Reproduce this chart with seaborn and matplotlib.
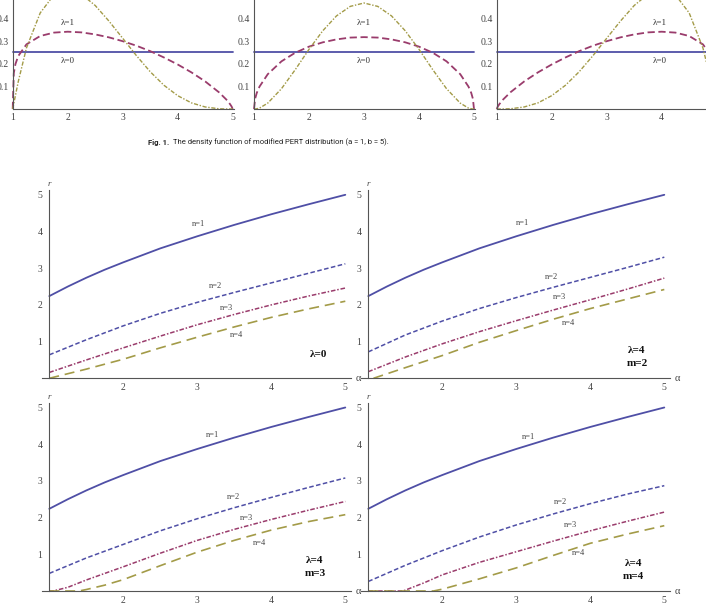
import matplotlib
matplotlib.use("Agg")
import matplotlib.pyplot as plt
import seaborn as sns
from matplotlib.ticker import MultipleLocator

# ---- Fig. 1 data: modified PERT density, a=1, b=5 ----
x_top = [1, 1.02, 1.05, 1.1, 1.25, 1.5, 1.75, 2, 2.25, 2.5, 2.75, 3, 3.25,
         3.5, 3.75, 4, 4.25, 4.5, 4.75, 4.9, 4.95, 4.98, 5]
x_flat = [1, 5]
lam0_density = [0.25, 0.25]

m2_lam1 = [0, 0.159, 0.199, 0.234, 0.286, 0.323, 0.338, 0.342, 0.339, 0.330, 0.317, 0.300,
           0.280, 0.256, 0.228, 0.197, 0.162, 0.122, 0.074, 0.038, 0.022, 0.011, 0]
m2_lam4 = [0, 0.025, 0.060, 0.120, 0.270, 0.425, 0.505, 0.527, 0.508, 0.458, 0.389, 0.313,
           0.236, 0.165, 0.105, 0.059, 0.027, 0.009, 0.001, 0, 0, 0, 0]
m3_lam1 = [0, 0.045, 0.071, 0.099, 0.154, 0.211, 0.249, 0.276, 0.295, 0.308, 0.316, 0.318,
           0.316, 0.308, 0.295, 0.276, 0.249, 0.211, 0.154, 0.099, 0.071, 0.045, 0]
m3_lam4 = [0, 0, 0.001, 0.004, 0.026, 0.090, 0.174, 0.264, 0.346, 0.412, 0.454, 0.469,
           0.454, 0.412, 0.346, 0.264, 0.174, 0.090, 0.026, 0.004, 0.001, 0, 0]
m4_lam1 = [0, 0.011, 0.022, 0.038, 0.074, 0.122, 0.162, 0.197, 0.228, 0.256, 0.280, 0.300,
           0.317, 0.330, 0.339, 0.342, 0.338, 0.323, 0.286, 0.234, 0.199, 0.159, 0]
m4_lam4 = [0, 0, 0, 0, 0.001, 0.009, 0.027, 0.059, 0.105, 0.165, 0.236, 0.313,
           0.389, 0.458, 0.508, 0.527, 0.505, 0.425, 0.270, 0.120, 0.060, 0.025, 0]

# ---- Fig. 2 data: r against alpha ----
alpha_n1 = [1, 1.25, 1.5, 1.75, 2, 2.5, 3, 3.5, 4, 4.5, 5]
r_n1 = [2.24, 2.50, 2.74, 2.96, 3.16, 3.54, 3.87, 4.18, 4.47, 4.74, 5.0]
alpha = [1, 1.5, 2, 2.5, 3, 3.5, 4, 4.5, 5]

# lambda = 0
l0_n2 = [0.64, 1.05, 1.43, 1.77, 2.07, 2.34, 2.60, 2.86, 3.12]
l0_n3 = [0.16, 0.50, 0.83, 1.15, 1.46, 1.74, 2.00, 2.24, 2.46]
l0_n4 = [0.0, 0.25, 0.52, 0.83, 1.12, 1.40, 1.66, 1.89, 2.10]
# lambda = 4, m = 2
m2_n2 = [0.72, 1.18, 1.56, 1.90, 2.20, 2.48, 2.75, 3.02, 3.30]
m2_n3 = [0.18, 0.58, 0.94, 1.27, 1.57, 1.86, 2.14, 2.43, 2.73]
m2_n4_alpha = [1.07, 1.5, 2, 2.5, 3, 3.5, 4, 4.5, 5]
m2_n4 = [0.0, 0.29, 0.62, 0.98, 1.30, 1.61, 1.90, 2.16, 2.42]
# lambda = 4, m = 3
m3_n2 = [0.48, 0.90, 1.27, 1.64, 1.97, 2.27, 2.55, 2.82, 3.08]
m3_n3_alpha = [1, 1.05, 1.25, 1.5, 2, 2.5, 3, 3.5, 4, 4.5, 5]
m3_n3 = [0, 0, 0.10, 0.30, 0.66, 1.03, 1.38, 1.68, 1.95, 2.20, 2.44]
m3_n4_alpha = [1, 1.4, 1.5, 1.75, 2, 2.5, 3, 3.5, 4, 4.5, 5]
m3_n4 = [0, 0, 0.04, 0.16, 0.31, 0.69, 1.06, 1.38, 1.66, 1.89, 2.08]
# lambda = 4, m = 4
m4_n2 = [0.26, 0.70, 1.10, 1.47, 1.80, 2.10, 2.38, 2.64, 2.87]
m4_n3_alpha = [1, 1.47, 1.75, 2, 2.5, 3, 3.5, 4, 4.5, 5]
m4_n3 = [0, 0, 0.22, 0.44, 0.78, 1.07, 1.36, 1.64, 1.90, 2.15]
m4_n4_alpha = [1, 1.88, 2, 2.5, 3, 3.5, 4, 4.5, 5]
m4_n4 = [0, 0, 0.05, 0.33, 0.63, 0.97, 1.30, 1.55, 1.78]

sns.set_theme(style="white")
plt.rcParams["font.family"] = ["Liberation Serif", "DejaVu Serif"]

BLUE = "#4f4fa6"
MAROON = "#9a3c6c"
OLIVE = "#a39b48"
AXC = "#555555"
W, H = 706, 607

fig = plt.figure(figsize=(W / 100, H / 100), dpi=100)


def rect(ox, oy, sx, sy, xlim, ylim):
    left = ox + (xlim[0] - 1) * sx
    right = ox + (xlim[1] - 1) * sx
    top = oy - ylim[1] * sy
    bottom = oy - ylim[0] * sy
    return [left / W, 1 - bottom / H, (right - left) / W, (bottom - top) / H]


def axes_style(ax, xlim, ylim, xt, yt, xminor, yminor, xpad, ypad, lsize):
    ax.set_xlim(*xlim)
    ax.set_ylim(*ylim)
    sns.despine(ax=ax)
    ax.spines["left"].set_position(("data", 1))
    for s in ["left", "bottom"]:
        ax.spines[s].set_color(AXC)
        ax.spines[s].set_linewidth(0.8)
    ax.set_xticks(xt, [f"{v:g}" for v in xt])
    ax.set_yticks(yt, [f"{v:g}" for v in yt])
    ax.xaxis.set_minor_locator(MultipleLocator(xminor))
    ax.yaxis.set_minor_locator(MultipleLocator(yminor))
    ax.tick_params(which="both", direction="in", color=AXC, width=0.6,
                   labelsize=lsize, labelcolor="#444444")
    ax.tick_params(which="major", length=3)
    ax.tick_params(which="minor", length=1.6)
    ax.tick_params(axis="x", pad=xpad)
    ax.tick_params(axis="y", pad=ypad)
    ax.set_xlabel("")
    ax.set_ylabel("")
    ax.patch.set_alpha(0)


def line(ax, x, y, color, ls="-", lw=1.1):
    sns.lineplot(x=x, y=y, ax=ax, color=color, linestyle=ls, lw=lw,
                 estimator=None, sort=False, clip_on=False)


# ---- top row: density panels ----
top_sets = [(12.7, m2_lam1, m2_lam4, 2.0), (254, m3_lam1, m3_lam4, 3.0),
            (496.7, m4_lam1, m4_lam4, 3.97)]
for ox, d1, d4, lx in top_sets:
    xl, yl = (1, 5.02), (0, 0.49)
    ax = fig.add_axes(rect(ox, 109, 55, 226, xl, yl))
    line(ax, x_flat, lam0_density, BLUE, "-", 1.3)
    line(ax, x_top, d1, MAROON, (0, (4, 2)), 1.3)
    line(ax, x_top, d4, OLIVE, (0, (3, 1.2, 1, 1.2)), 1.0)
    axes_style(ax, xl, yl, [1, 2, 3, 4, 5], [0.1, 0.2, 0.3, 0.4], 0.2, 0.02, 3, 3, 7)
    ax.text(lx, 0.38, "λ=1", fontsize=6.5, ha="center", va="center", color="#333333")
    ax.text(lx, 0.212, "λ=0", fontsize=6.5, ha="center", va="center", color="#333333")

# caption, sized to fill the same width as in the page
cap_font = ["Roboto", "Liberation Sans", "DejaVu Sans"]
renderer = fig.canvas.get_renderer()
t_fig = fig.text(148 / W, 1 - 142 / H, "Fig. 1.", fontsize=6, weight="bold",
                 family=cap_font, va="center", color="#222222")
t_cap = fig.text(0, 1 - 142 / H,
                 "The density function of modified PERT distribution (a = 1, b = 5).",
                 fontsize=6, family=cap_font, va="center", color="#222222")
w_cap = t_cap.get_window_extent(renderer).width
scale = 217 / w_cap
t_cap.set_fontsize(6 * scale)
t_fig.set_fontsize(6 * scale)
x_end = t_fig.get_window_extent(renderer).x1
t_cap.set_x((x_end + 4) / W)

# ---- bottom 2x2: r vs alpha ----
panels = [
    (49.3, 378.3, l0_n2, l0_n3, alpha, l0_n4, alpha,
     ["λ=0"], [(3.01, 4.2), (3.24, 2.51), (3.40, 1.91), (3.53, 1.18)], (4.64, 0.64)),
    (368.3, 378.3, m2_n2, m2_n3, alpha, m2_n4, m2_n4_alpha,
     ["λ=4", "m=2"], [(3.09, 4.22), (3.48, 2.77), (3.58, 2.22), (3.70, 1.52)], (4.63, 0.77)),
    (49.3, 591, m3_n2, m3_n3, m3_n3_alpha, m3_n4, m3_n4_alpha,
     ["λ=4", "m=3"], [(3.21, 4.25), (3.49, 2.57), (3.66, 2.0), (3.84, 1.30)], (4.59, 0.84)),
    (368.3, 591, m4_n2, m4_n3, m4_n3_alpha, m4_n4, m4_n4_alpha,
     ["λ=4", "m=4"], [(3.16, 4.2), (3.60, 2.42), (3.73, 1.8), (3.84, 1.03)], (4.58, 0.75)),
]
for ox, oy, n2, n3, a3, n4, a4, tag, lab_pos, tag_pos in panels:
    xl, yl = (0.9, 5.08), (0, 5.12)
    ax = fig.add_axes(rect(ox, oy, 74, 36.7, xl, yl))
    line(ax, alpha_n1, r_n1, BLUE, "-", 1.3)
    line(ax, alpha, n2, BLUE, (0, (3, 1.6)), 1.1)
    line(ax, a3, n3, MAROON, (0, (3, 1.2, 1, 1.2)), 1.1)
    line(ax, a4, n4, OLIVE, (0, (6, 3.5)), 1.2)
    axes_style(ax, xl, yl, [2, 3, 4, 5], [1, 2, 3, 4, 5], 0.2, 0.2, 3.5, 5, 7)
    for i, (px, py) in enumerate(lab_pos):
        ax.text(px, py, f"n={i + 1}", fontsize=6, ha="center", va="center",
                color="#444444")
    ax.text(tag_pos[0], tag_pos[1], tag[0], fontsize=8, weight="bold",
            ha="center", va="center", color="#111111")
    if len(tag) > 1:
        ax.text(tag_pos[0], tag_pos[1] - 0.36, tag[1], fontsize=8, weight="bold",
                ha="center", va="center", color="#111111")
    ax.text(1.0, 5.29, "r", fontsize=6.5, style="italic", ha="center", va="center",
            color="#444444", clip_on=False)
    ax.text(5.18, 0.0, "α", fontsize=7.5, ha="center", va="center",
            color="#444444", clip_on=False)

fig.savefig("out.png", dpi=100)
